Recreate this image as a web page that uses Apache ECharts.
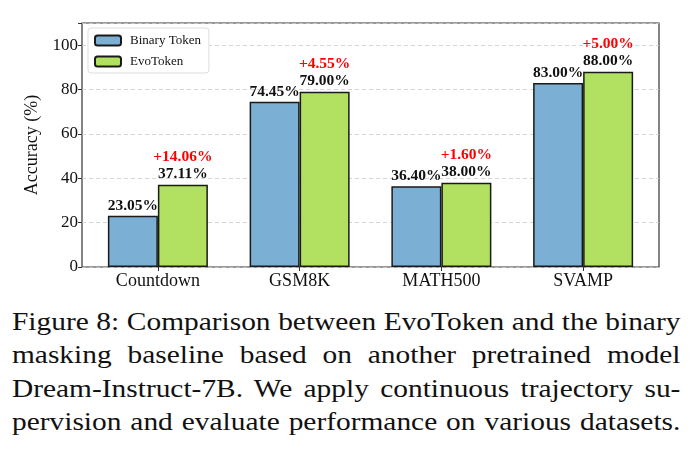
<!DOCTYPE html>
<html>
<head>
<meta charset="utf-8">
<script src="https://cdn.jsdelivr.net/npm/echarts@6/dist/echarts.min.js"></script>
<style>
  body { margin: 0; background: #fff; }
  #chart { width: 691px; height: 290px; }
  #caption {
    position: absolute; left: 12px; top: 305px; width: 557px;
    transform: scaleX(1.2); transform-origin: 0 0;
    font-family: "Liberation Serif", "DejaVu Serif", serif;
    font-size: 24.5px; line-height: 33.3px; color: #111;
  }
  #caption div { text-align: justify; text-align-last: justify; white-space: nowrap; }
</style>
</head>
<body>
<div id="chart"></div>
<div id="caption">
  <div>Figure 8: Comparison between EvoToken and the binary</div>
  <div>masking baseline based on another pretrained model</div>
  <div>Dream-Instruct-7B. We apply continuous trajectory su-</div>
  <div>pervision and evaluate performance on various datasets.</div>
</div>
<script>
const categories = ['Countdown', 'GSM8K', 'MATH500', 'SVAMP'];
const binaryToken = [23.05, 74.45, 36.40, 83.00];
const evoToken = [37.11, 79.00, 38.00, 88.00];
const yTicks = [0, 20, 40, 60, 80, 100];

const serif = '"Liberation Serif", "DejaVu Serif", serif';
const chart = echarts.init(document.getElementById('chart'));

function gainText(i) {
  return '+' + (evoToken[i] - binaryToken[i]).toFixed(2) + '%';
}

const option = {
  backgroundColor: '#fff',
  animation: false,
  grid: [
    // frame grid (spines + y axis + gridlines)
    { left: 82, right: 32, top: 23, bottom: 23, show: true, borderColor: '#333', borderWidth: 1.2, backgroundColor: 'transparent' },
    // data grid, inset like matplotlib margins
    { left: 87, right: 37, top: 23, bottom: 23 }
  ],
  legend: {
    left: 88, top: 28,
    orient: 'vertical',
    itemWidth: 26, itemHeight: 10, itemGap: 8,
    padding: [6, 8, 5, 6],
    backgroundColor: '#fff',
    borderColor: '#ddd', borderWidth: 1, borderRadius: 3,
    textStyle: { fontFamily: serif, fontSize: 13, color: '#111', padding: [0, 0, 0, 4] },
    data: ['Binary Token', 'EvoToken']
  },
  xAxis: [
    { gridIndex: 0, type: 'value', min: 0, max: 1, show: false },
    {
      gridIndex: 1, type: 'category', data: categories,
      axisLine: { show: false },
      axisTick: { show: true, alignWithLabel: true, length: 4, lineStyle: { color: '#333' } },
      axisLabel: { fontFamily: serif, fontSize: 18, color: '#111', margin: 5 }
    }
  ],
  yAxis: [
    {
      gridIndex: 0, type: 'value', min: 0, max: 110, interval: 20,
      name: 'Accuracy (%)', nameLocation: 'middle', nameGap: 36,
      nameTextStyle: { fontFamily: serif, fontSize: 18, color: '#111' },
      axisLine: { show: false },
      axisTick: { show: true, length: 4, lineStyle: { color: '#333' } },
      axisLabel: {
        fontFamily: serif, fontSize: 17, color: '#111', margin: 4,
        formatter: v => yTicks.includes(v) ? String(v) : ''
      },
      splitLine: { show: true, lineStyle: { color: '#ccc', type: [4, 3], width: 0.8 } }
    },
    { gridIndex: 1, type: 'value', min: 0, max: 110, show: false }
  ],
  series: [
    {
      name: 'Binary Token', type: 'bar',
      xAxisIndex: 1, yAxisIndex: 1,
      data: binaryToken,
      barWidth: 50, barGap: '0%',
      itemStyle: { color: '#7bafd4', borderColor: '#1a1a1a', borderWidth: 1.5 },
      label: {
        show: true, position: 'top', distance: 2,
        fontFamily: serif, fontSize: 15.5, fontWeight: 'bold', color: '#111',
        formatter: p => p.value.toFixed(2) + '%'
      }
    },
    {
      name: 'EvoToken', type: 'bar',
      xAxisIndex: 1, yAxisIndex: 1,
      data: evoToken,
      barWidth: 50,
      itemStyle: { color: '#b2e061', borderColor: '#1a1a1a', borderWidth: 1.5 },
      label: {
        show: true, position: 'top', distance: 2,
        fontFamily: serif, fontSize: 15.5, fontWeight: 'bold', color: '#111',
        formatter: p => '{gain|' + gainText(p.dataIndex) + '}\n{val|' + p.value.toFixed(2) + '%}',
        rich: {
          gain: { fontFamily: serif, fontSize: 15.5, fontWeight: 'bold', color: '#ff0000', lineHeight: 17, align: 'center' },
          val: { fontFamily: serif, fontSize: 15.5, fontWeight: 'bold', color: '#111', lineHeight: 17, align: 'center' }
        }
      }
    }
  ]
};
chart.setOption(option);
</script>
</body>
</html>
